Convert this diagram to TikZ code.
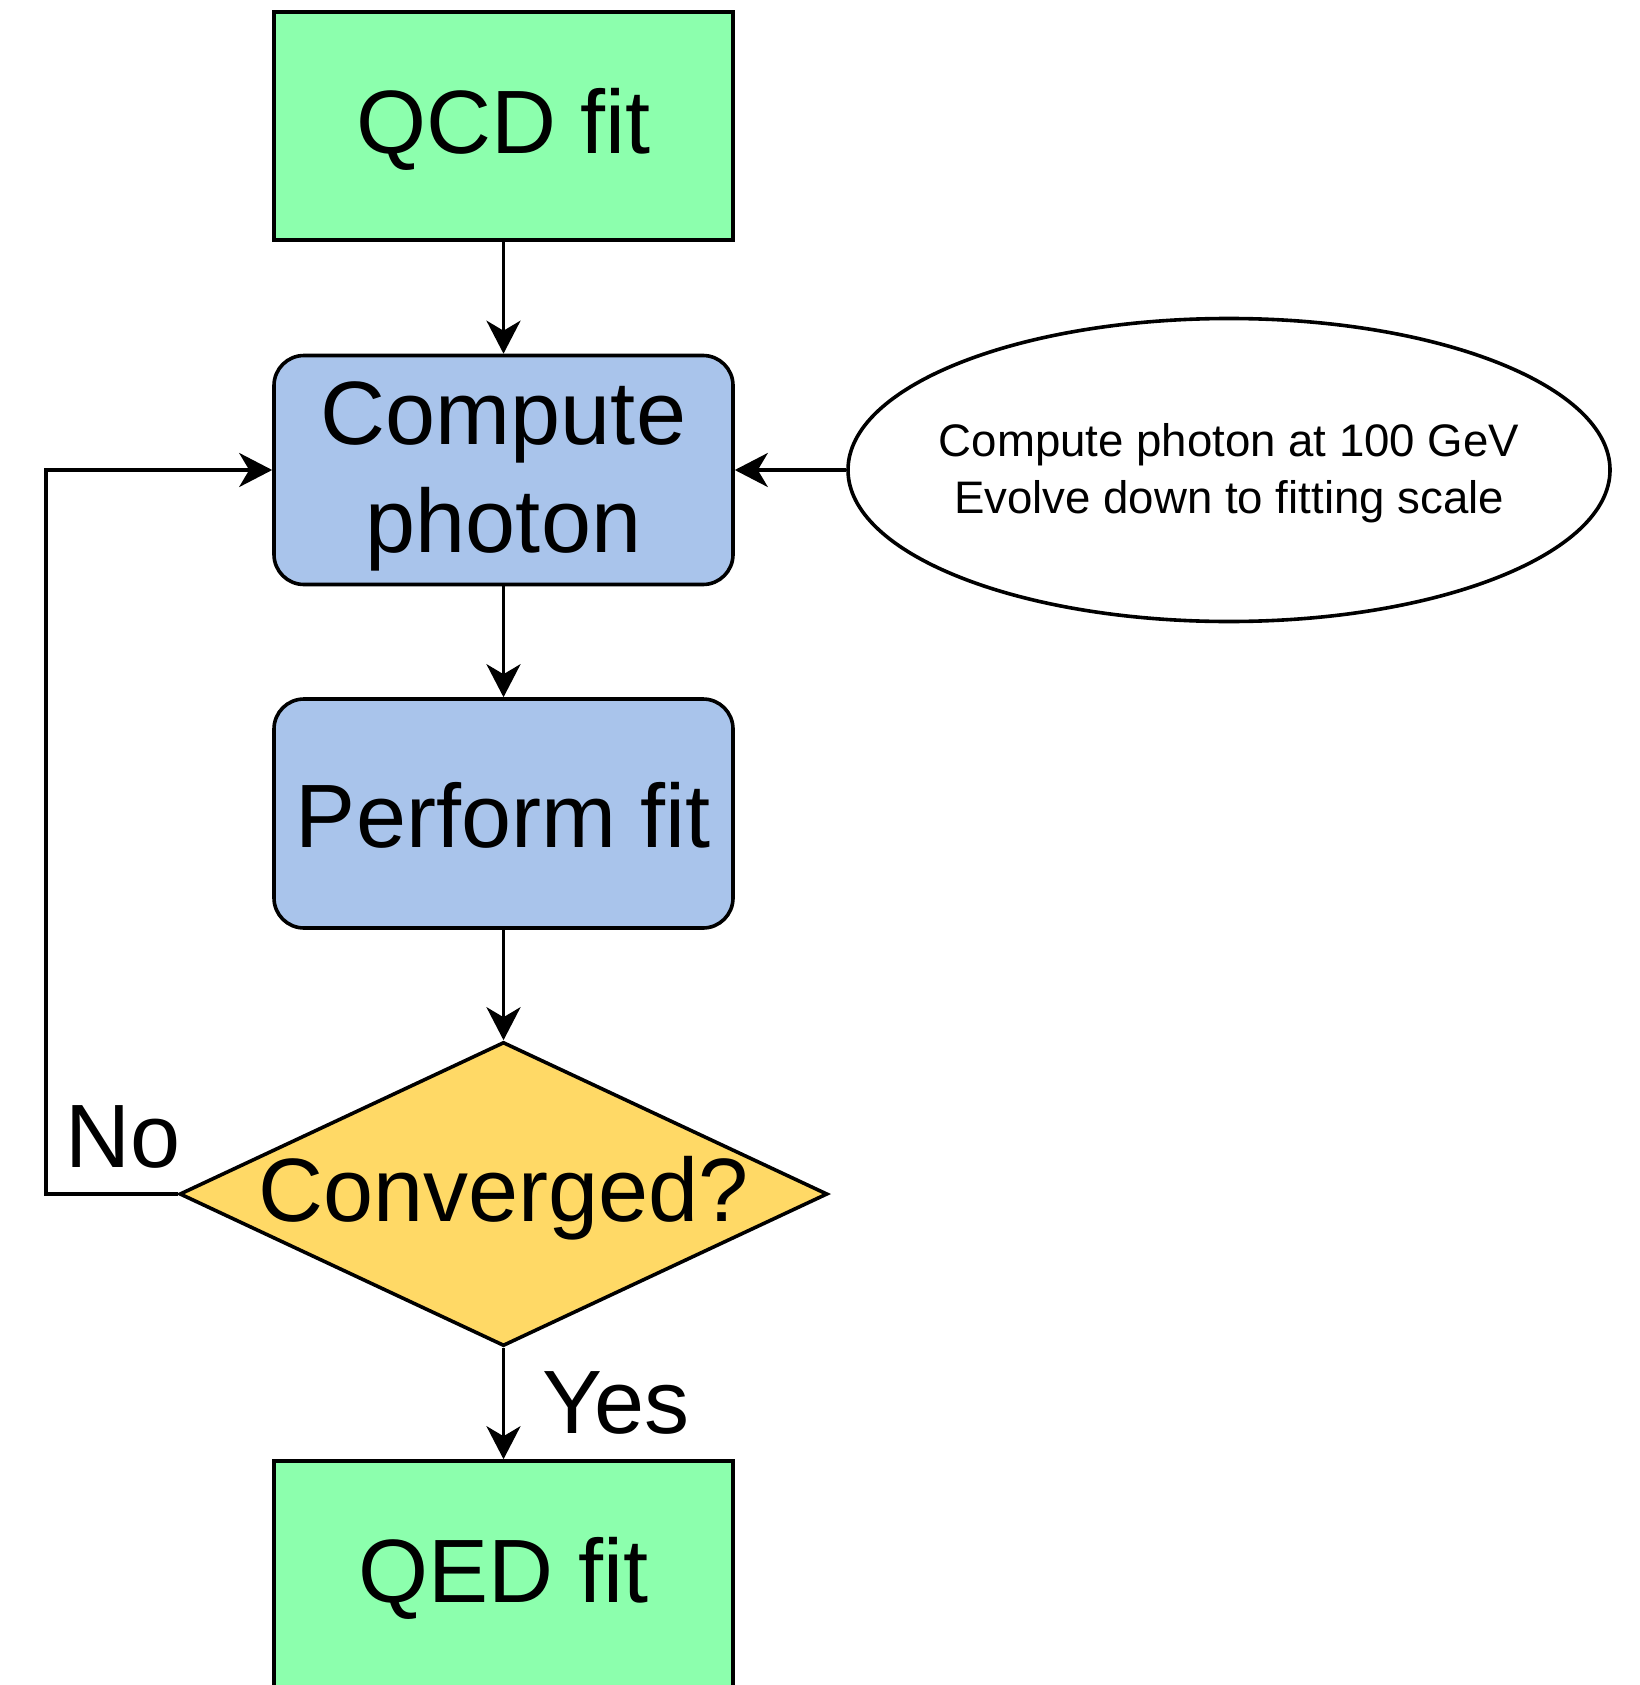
\documentclass[tikz,border=0pt]{standalone}
\usepackage{fontspec}
\setmainfont{Liberation Sans}
\usetikzlibrary{arrows.meta,shapes.geometric}
\definecolor{fitgreen}{HTML}{8CFFAD}
\definecolor{stepblue}{HTML}{A9C4EB}
\definecolor{decyellow}{HTML}{FFD966}
\newcommand{\dn}[2]{\raisebox{-#1}[\height][\depth]{#2}}
\tikzset{
  base/.style={draw=black, line width=1.8pt, inner sep=0pt, align=center,
    font=\fontsize{45}{54}\selectfont},
  greenbox/.style={base, rectangle, fill=fitgreen, minimum width=229.5pt, minimum height=114pt},
  bluebox/.style={base, rectangle, rounded corners=15pt, fill=stepblue, minimum width=229.5pt, minimum height=114.5pt},
  decision/.style={base, diamond, fill=decyellow, minimum width=324pt, minimum height=152pt},
  note/.style={draw=black, line width=1.8pt, ellipse, inner sep=0pt,
    minimum width=381pt, minimum height=151.5pt, font=\fontsize{22.8}{28.5}\selectfont},
  conn/.style={line width=1.8pt, -{Stealth[length=16.5pt,width=17pt,inset=5pt]}},
  lbl/.style={inner sep=0pt, font=\fontsize{45}{54}\selectfont}
}
\begin{document}
\begin{tikzpicture}[x=1pt,y=-1pt]
\useasboundingbox (0,0) rectangle (819.5,842.5);
\node[greenbox] (qcd) at (251.75,63) {\dn{1.8pt}{QCD fit}};
\node[bluebox] (comp) at (251.75,235) {\dn{3.5pt}{\begin{tabular}{@{}c@{}}Compute\\photon\end{tabular}}};
\node[bluebox] (perf) at (251.75,406.75) {\dn{1pt}{Perform fit}};
\node[decision] (conv) at (251.75,597) {\makebox[0pt]{\dn{2pt}{Converged?}}};
\node[greenbox] (qed) at (251.75,787.5) {\dn{1.5pt}{QED fit}};
\node[note] (ell) at (614.5,235) {\makebox[0pt]{\dn{1.6pt}{\begin{tabular}{@{}c@{}}Compute photon at 100 GeV\\Evolve down to fitting scale\end{tabular}}}};
\coordinate (loop) at (23,597);
\draw[conn] (qcd) -- (comp);
\draw[conn] (comp) -- (perf);
\draw[conn] (perf) -- (conv.north);
\draw[conn] (conv.south) -- (qed);
\draw[conn] (ell.west) -- (comp.east);
\draw[conn] (conv.west) -- (loop) |- (comp.west);
\node[lbl, anchor=base west] (no) at (32.5,583.5) {No};
\node[lbl, anchor=base west] (yes) at (271,716.5) {Yes};
\end{tikzpicture}
\end{document}
